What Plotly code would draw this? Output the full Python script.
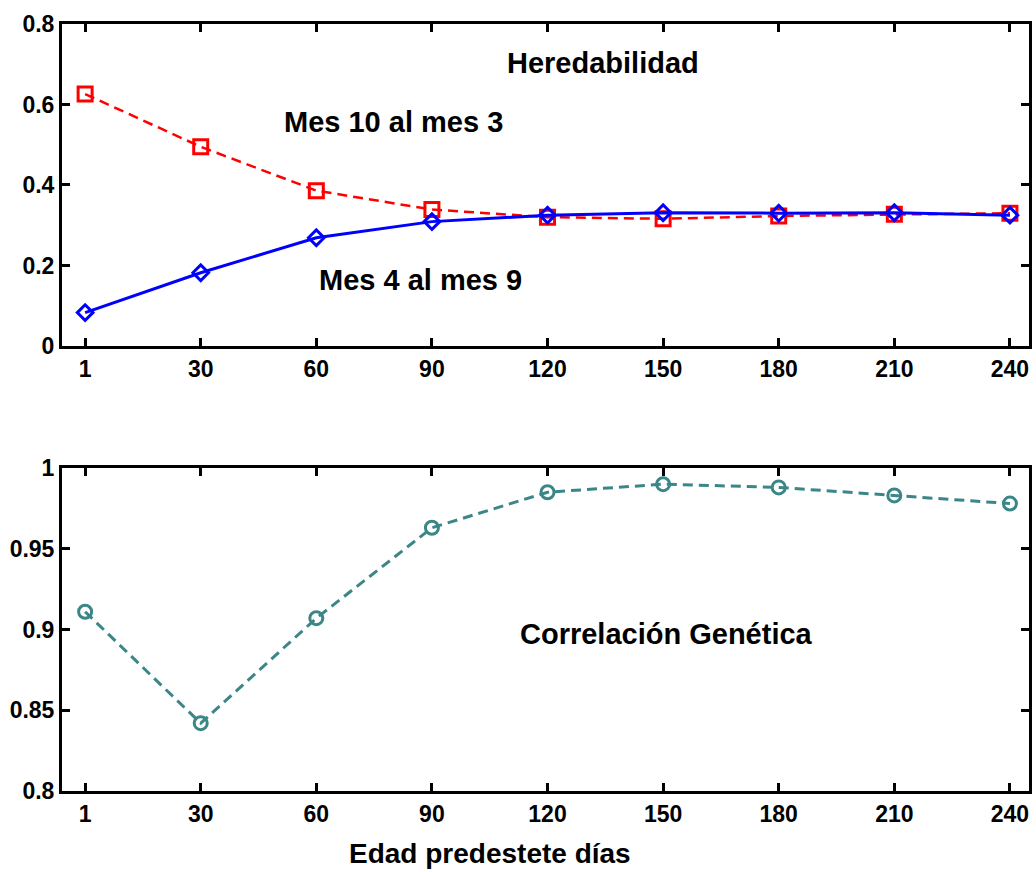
import plotly.graph_objects as go
from plotly.subplots import make_subplots

dias = ["1", "30", "60", "90", "120", "150", "180", "210", "240"]
mes10_mes3 = [0.626, 0.495, 0.386, 0.339, 0.320, 0.316, 0.323, 0.327, 0.330]
mes4_mes9 = [0.083, 0.182, 0.269, 0.309, 0.325, 0.331, 0.330, 0.331, 0.325]
correlacion = [0.911, 0.842, 0.907, 0.963, 0.985, 0.990, 0.988, 0.983, 0.978]

FONT = "Arial, Liberation Sans, sans-serif"
TEAL = "#3b8686"

fig = make_subplots(rows=2, cols=1)

fig.add_trace(go.Scatter(
    x=dias, y=mes10_mes3, mode="lines+markers", name="Mes 10 al mes 3",
    line=dict(color="#ff0000", width=2.5, dash="10px,6px"),
    marker=dict(symbol="square-open", size=14, color="#ff0000", line=dict(width=3, color="#ff0000")),
), row=1, col=1)
fig.add_trace(go.Scatter(
    x=dias, y=mes4_mes9, mode="lines+markers", name="Mes 4 al mes 9",
    line=dict(color="#0000ff", width=3),
    marker=dict(symbol="diamond-open", size=12, color="#0000ff", line=dict(width=3, color="#0000ff")),
), row=1, col=1)
fig.add_trace(go.Scatter(
    x=dias, y=correlacion, mode="lines+markers", name="Correlación Genética",
    line=dict(color=TEAL, width=3, dash="10px,6px"),
    marker=dict(symbol="circle-open", size=13, color=TEAL, line=dict(width=3, color=TEAL)),
), row=2, col=1)

axis_common = dict(
    showline=True, linecolor="black", linewidth=3, mirror="ticks",
    ticks="inside", ticklen=8, tickwidth=2.5, tickcolor="black",
    showgrid=False, zeroline=False,
    tickfont=dict(family=FONT, size=23, color="black", weight="bold"),
)

fig.update_xaxes(**axis_common, type="category", range=[-0.2, 8.165])
fig.update_yaxes(**axis_common)

fig.update_yaxes(range=[0, 0.8], tickvals=[0, 0.2, 0.4, 0.6, 0.8], row=1, col=1)
fig.update_yaxes(range=[0.8, 1.0], tickvals=[0.8, 0.85, 0.9, 0.95, 1.0], row=2, col=1)

fig.update_layout(
    width=1036, height=872,
    margin=dict(l=62, r=4, t=24, b=81),
    paper_bgcolor="white", plot_bgcolor="white",
    showlegend=False,
    xaxis=dict(domain=[0, 1]), xaxis2=dict(domain=[0, 1]),
    yaxis=dict(domain=[0.5802, 1.0]),
    yaxis2=dict(domain=[0.0, 0.4211]),
    font=dict(family=FONT, color="black"),
)

ann_font = dict(family=FONT, size=29, color="black", weight="bold")
fig.add_annotation(x=4.48, y=0.703, xref="x", yref="y", text="Heredabilidad",
                   showarrow=False, font=ann_font)
fig.add_annotation(x=2.67, y=0.557, xref="x", yref="y", text="Mes 10 al mes 3",
                   showarrow=False, font=ann_font)
fig.add_annotation(x=2.9, y=0.164, xref="x", yref="y", text="Mes 4 al mes 9",
                   showarrow=False, font=ann_font)
fig.add_annotation(x=5.03, y=0.897, xref="x2", yref="y2", text="Correlación Genética",
                   showarrow=False, font=ann_font)
fig.add_annotation(x=0.443, y=-0.1043, xref="paper", yref="paper", text="Edad predestete días",
                   showarrow=False, font=dict(family=FONT, size=28, color="black", weight="bold"),
                   yanchor="bottom")

fig.write_html("out.html")
